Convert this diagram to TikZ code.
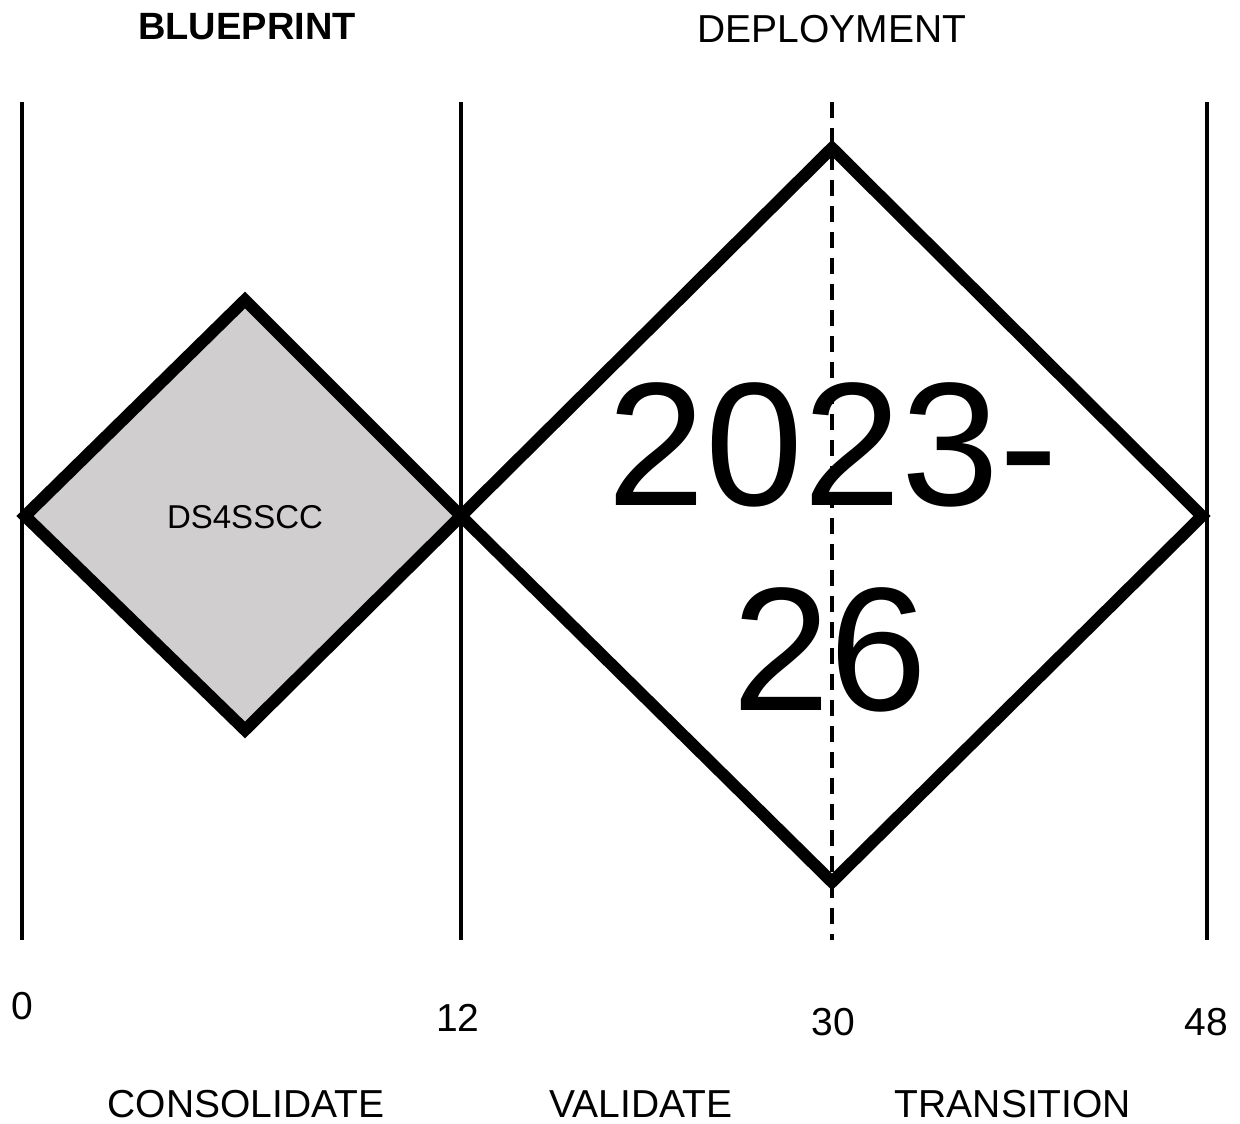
\documentclass[tikz,border=0pt]{standalone}
\usepackage{fontspec}
\setmainfont{Liberation Sans}
\begin{document}
\begin{tikzpicture}[x=1pt,y=-1pt,
  vline/.style={line width=4pt},
  dline/.style={line width=3.5pt,dash pattern=on 16pt off 10pt},
  dia/.style={line width=12pt,line join=miter},
  lbl/.style={inner sep=0pt,font=\fontsize{39}{46}\selectfont},
  big/.style={inner sep=0pt,font=\fontsize{176}{200}\selectfont}]
\useasboundingbox (0,0) rectangle (1240,1124);
% vertical lines
\coordinate (t0) at (22,102);   \coordinate (b0) at (22,940);
\coordinate (t12) at (461,102); \coordinate (b12) at (461,940);
\coordinate (t30) at (832,102); \coordinate (b30) at (832,940);
\coordinate (t48) at (1207,102);\coordinate (b48) at (1207,940);
\draw[vline] (t0) -- (b0);
\draw[vline] (t12) -- (b12);
\draw[vline] (t48) -- (b48);
% small diamond
\coordinate (sL) at (25,516); \coordinate (sT) at (245,300);
\coordinate (sR) at (461,516); \coordinate (sB) at (245,730);
\draw[dia,fill={rgb,255:red,208;green,206;blue,207}] (sL) -- (sT) -- (sR) -- (sB) -- cycle;
% big diamond
\coordinate (bL) at (461,516); \coordinate (bT) at (832,148);
\coordinate (bR) at (1202,516); \coordinate (bB) at (832,882);
\draw[dia] (bL) -- (bT) -- (bR) -- (bB) -- cycle;
% dashed line
\draw[dline] (t30) -- (b30);
% texts
\node[lbl,font=\fontsize{33}{40}\selectfont] (ds) at (245,517) {DS4SSCC};
\node[big] (y1) at (833,445) {2023-};
\node[big] (y2) at (830,650) {26};
\node[lbl,font=\bfseries\fontsize{38}{46}\selectfont] (bp) at (247,27) {BLUEPRINT};
\node[lbl] (dep) at (832,29) {DEPLOYMENT};
\node[lbl] (n0) at (22,1006) {0};
\node[lbl] (n12) at (458,1018) {12};
\node[lbl] (n30) at (833,1022) {30};
\node[lbl] (n48) at (1206,1022) {48};
\node[lbl] (c1) at (246,1104) {CONSOLIDATE};
\node[lbl] (c2) at (641,1104) {VALIDATE};
\node[lbl] (c3) at (1013,1104) {TRANSITION};
\end{tikzpicture}
\end{document}
